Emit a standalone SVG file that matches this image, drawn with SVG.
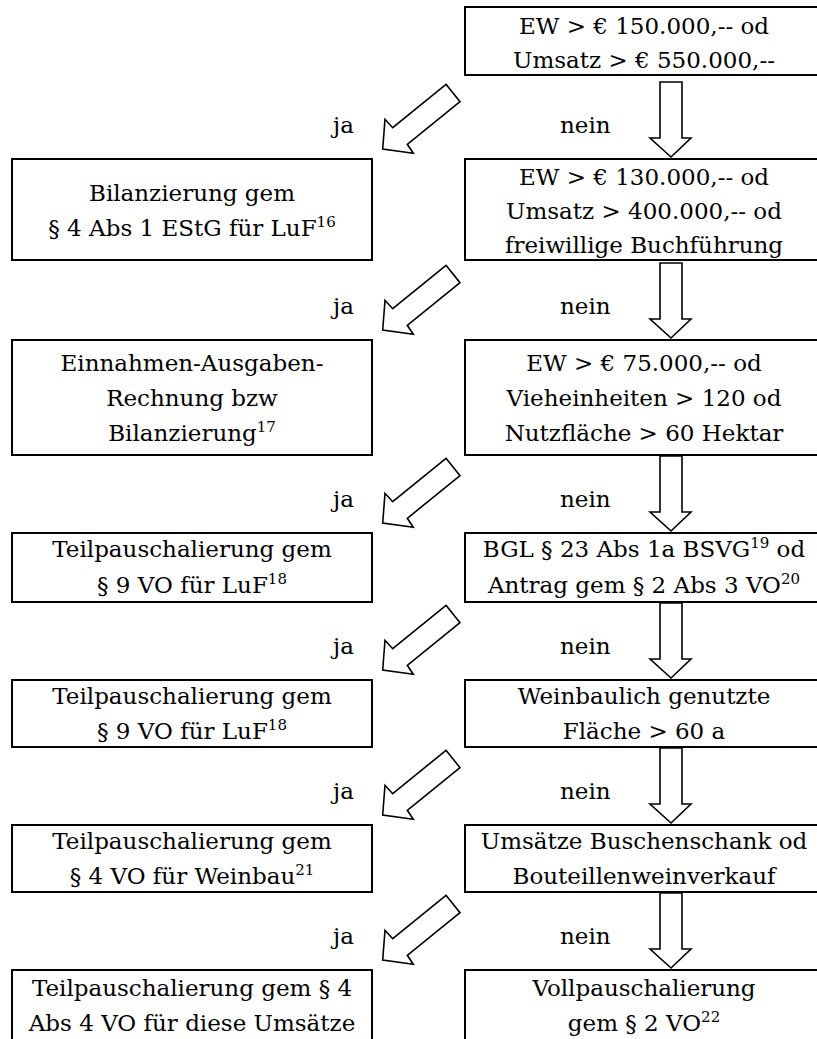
<svg xmlns="http://www.w3.org/2000/svg" xmlns:xlink="http://www.w3.org/1999/xlink" width="817" height="1039" viewBox="0 0 817 1039">
<style>
.box{fill:#fff;stroke:#000;stroke-width:2}
.arr{fill:#fff;stroke:#000;stroke-width:1.6;stroke-linejoin:miter}
text{font-family:"DejaVu Serif","Liberation Serif",serif;font-size:23px;fill:#000}
.c{text-anchor:middle}
.sup{font-size:15px}
</style>
<defs>
<polygon id="diag" class="arr" points="446,-74.7 460,-57.3 407.3,-14.7 413.3,-5.7 382.7,-10 385,-39.7 392.7,-31.3"/>
<polygon id="down" class="arr" points="660,-77 682,-77 682,-21 691,-21 671,-2 650,-21 660,-21"/>
</defs>
<rect width="817" height="1039" fill="#fff"/>
<g id="connectors">
<use xlink:href="#diag" y="159"/><use xlink:href="#down" y="159"/>
<use xlink:href="#diag" y="340"/><use xlink:href="#down" y="340"/>
<use xlink:href="#diag" y="533"/><use xlink:href="#down" y="533"/>
<use xlink:href="#diag" y="680"/><use xlink:href="#down" y="680"/>
<use xlink:href="#diag" y="825"/><use xlink:href="#down" y="825"/>
<use xlink:href="#diag" y="970"/><use xlink:href="#down" y="970"/>
<text x="333" y="133">ja</text><text x="560" y="133">nein</text>
<text x="333" y="314">ja</text><text x="560" y="314">nein</text>
<text x="333" y="507">ja</text><text x="560" y="507">nein</text>
<text x="333" y="654">ja</text><text x="560" y="654">nein</text>
<text x="333" y="799">ja</text><text x="560" y="799">nein</text>
<text x="333" y="944">ja</text><text x="560" y="944">nein</text>
</g>
<g id="q1"><rect class="box" x="465" y="7" width="360" height="68"/>
<text class="c" x="644" y="34">EW &gt; € 150.000,-- od</text>
<text class="c" x="644" y="68">Umsatz &gt; € 550.000,--</text></g>
<g id="r1"><rect class="box" x="12" y="159" width="360" height="101"/>
<text class="c" x="192" y="201">Bilanzierung gem</text>
<text class="c" x="192" y="236">§ 4 Abs 1 EStG für LuF<tspan class="sup" baseline-shift="super">16</tspan></text></g>
<g id="q2"><rect class="box" x="465" y="159" width="360" height="101"/>
<text class="c" x="644" y="185">EW &gt; € 130.000,-- od</text>
<text class="c" x="644" y="219">Umsatz &gt; 400.000,-- od</text>
<text class="c" x="644" y="253">freiwillige Buchführung</text></g>
<g id="r2"><rect class="box" x="12" y="340" width="360" height="115"/>
<text class="c" x="192" y="371">Einnahmen-Ausgaben-</text>
<text class="c" x="192" y="406">Rechnung bzw</text>
<text class="c" x="192" y="441">Bilanzierung<tspan class="sup" baseline-shift="super">17</tspan></text></g>
<g id="q3"><rect class="box" x="465" y="340" width="360" height="115"/>
<text class="c" x="644" y="371">EW &gt; € 75.000,-- od</text>
<text class="c" x="644" y="406">Vieheinheiten &gt; 120 od</text>
<text class="c" x="644" y="441">Nutzfläche &gt; 60 Hektar</text></g>
<g id="r3"><rect class="box" x="12" y="533" width="360" height="69"/>
<text class="c" x="192" y="557">Teilpauschalierung gem</text>
<text class="c" x="192" y="593">§ 9 VO für LuF<tspan class="sup" baseline-shift="super">18</tspan></text></g>
<g id="q4"><rect class="box" x="465" y="533" width="360" height="69"/>
<text class="c" x="644" y="557">BGL § 23 Abs 1a BSVG<tspan class="sup" baseline-shift="super">19</tspan> od</text>
<text class="c" x="644" y="593">Antrag gem § 2 Abs 3 VO<tspan class="sup" baseline-shift="super">20</tspan></text></g>
<g id="r4"><rect class="box" x="12" y="680" width="360" height="67"/>
<text class="c" x="192" y="704">Teilpauschalierung gem</text>
<text class="c" x="192" y="739">§ 9 VO für LuF<tspan class="sup" baseline-shift="super">18</tspan></text></g>
<g id="q5"><rect class="box" x="465" y="680" width="360" height="67"/>
<text class="c" x="644" y="704">Weinbaulich genutzte</text>
<text class="c" x="644" y="739">Fläche &gt; 60 a</text></g>
<g id="r5"><rect class="box" x="12" y="825" width="360" height="67"/>
<text class="c" x="192" y="849">Teilpauschalierung gem</text>
<text class="c" x="192" y="884">§ 4 VO für Weinbau<tspan class="sup" baseline-shift="super">21</tspan></text></g>
<g id="q6"><rect class="box" x="465" y="825" width="360" height="67"/>
<text class="c" x="644" y="849">Umsätze Buschenschank od</text>
<text class="c" x="644" y="884">Bouteillenweinverkauf</text></g>
<g id="r6"><rect class="box" x="12" y="970" width="360" height="80"/>
<text class="c" x="192" y="996">Teilpauschalierung gem § 4</text>
<text class="c" x="192" y="1031">Abs 4 VO für diese Umsätze</text></g>
<g id="q7"><rect class="box" x="465" y="970" width="360" height="80"/>
<text class="c" x="644" y="996">Vollpauschalierung</text>
<text class="c" x="644" y="1031">gem § 2 VO<tspan class="sup" baseline-shift="super">22</tspan></text></g>
</svg>
